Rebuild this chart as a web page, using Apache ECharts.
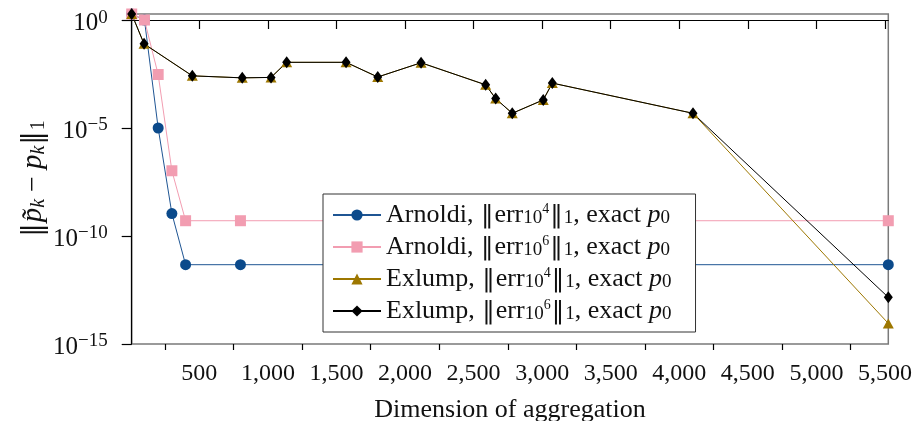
<!DOCTYPE html>
<html>
<head>
<meta charset="utf-8">
<script src="https://cdn.jsdelivr.net/npm/echarts@6/dist/echarts.min.js"></script>
<style>html,body{margin:0;background:#fff}#chart{width:914px;height:421px}</style>
</head>
<body>
<div id="chart"></div>
<script>
// data (errors are plotted on a log10 scale)
var xArnoldi = [7, 100, 200, 300, 400, 800, 5524];
var arnoldi4 = [1.9, 1.0, 1.0e-5, 1.1e-9, 4.7e-12, 4.7e-12, 4.7e-12];
var arnoldi6 = [1.9, 1.0, 3.0e-3, 1.05e-7, 5.1e-10, 5.1e-10, 5.1e-10];

var xExlump = [7, 97, 449, 813, 1023, 1137, 1570, 1801, 2117, 2588, 2661, 2782, 3008, 3074, 4100, 5524];
var exlump4 = [1.9, 0.079, 2.6e-3, 2.1e-3, 2.2e-3, 1.1e-2, 1.1e-2, 2.3e-3, 1.05e-2, 1.0e-3, 2.3e-4, 4.8e-5, 2.0e-4, 1.2e-3, 4.8e-5, 9e-15];
var exlump6 = [1.9, 0.079, 2.6e-3, 2.1e-3, 2.2e-3, 1.1e-2, 1.1e-2, 2.3e-3, 1.05e-2, 1.0e-3, 2.3e-4, 4.8e-5, 2.0e-4, 1.2e-3, 4.8e-5, 1.45e-13];

var xTicks = [500, 1000, 1500, 2000, 2500, 3000, 3500, 4000, 4500, 5000, 5500];
var xMinorTicks = [250, 750, 1250, 1750, 2250, 2750, 3250, 3750, 4250, 4750, 5250];
var yTickExp = [-15, -10, -5, 0];

var serif = 'Liberation Serif';
var ink = '#111';

function pts(xs, ys) {
  return xs.map(function (x, i) { return [x, Math.log10(ys[i])]; });
}

var legendText = {
  'Arnoldi 1e4': '{n|Arnoldi, }{d|‖}{n|err}{s|10}{ss|4}{d|‖}{s|1}{n|, exact }{i|p}{s|0}',
  'Arnoldi 1e6': '{n|Arnoldi, }{d|‖}{n|err}{s|10}{ss|6}{d|‖}{s|1}{n|, exact }{i|p}{s|0}',
  'Exlump 1e4': '{n|Exlump, }{d|‖}{n|err}{s|10}{ss|4}{d|‖}{s|1}{n|, exact }{i|p}{s|0}',
  'Exlump 1e6': '{n|Exlump, }{d|‖}{n|err}{s|10}{ss|6}{d|‖}{s|1}{n|, exact }{i|p}{s|0}'
};

var richText = {
  n: {fontFamily: serif, fontSize: 26, lineHeight: 26, color: ink},
  d: {fontFamily: 'DejaVu Serif', fontSize: 25, lineHeight: 26, color: ink, padding: [0, 1, 0, 1]},
  i: {fontFamily: serif, fontSize: 26, lineHeight: 26, fontStyle: 'italic', color: ink},
  s: {fontFamily: serif, fontSize: 19, lineHeight: 16, verticalAlign: 'bottom', color: ink},
  ss: {fontFamily: serif, fontSize: 14, lineHeight: 20, verticalAlign: 'top', color: ink}
};

var titleRich = {
  n: {fontFamily: serif, fontSize: 28, lineHeight: 30, color: ink},
  d: {fontFamily: 'DejaVu Serif', fontSize: 27, lineHeight: 30, color: ink, padding: [0, 1, 0, 1]},
  i: {fontFamily: serif, fontSize: 29, lineHeight: 30, fontStyle: 'italic', color: ink},
  s: {fontFamily: serif, fontSize: 20, lineHeight: 18, verticalAlign: 'bottom', color: ink},
  si: {fontFamily: serif, fontSize: 20, lineHeight: 18, verticalAlign: 'bottom', fontStyle: 'italic', color: ink}
};

var tickRich = {
  b: {fontFamily: serif, fontSize: 25, lineHeight: 30, color: ink},
  sup: {fontFamily: serif, fontSize: 19, lineHeight: 17, verticalAlign: 'top', color: ink}
};

var chart = echarts.init(document.getElementById('chart'));

var option = {
  animation: false,
  backgroundColor: '#fff',
  grid: {
    left: 131.7, right: 25.7, top: 14, bottom: 77,
    outerBoundsMode: 'none',
    show: true, borderColor: '#7a7a7a', borderWidth: 1.5
  },
  xAxis: [{
    type: 'value',
    min: 7,
    max: 5524,
    name: 'Dimension of aggregation',
    nameLocation: 'middle',
    nameGap: 53,
    nameTextStyle: {fontFamily: serif, fontSize: 26, color: ink},
    axisLine: {lineStyle: {color: '#000', width: 1.2}},
    axisTick: {customValues: xTicks, length: 9, lineStyle: {color: '#000', width: 1.2}},
    axisLabel: {
      customValues: xTicks, margin: 18, fontFamily: serif, fontSize: 24, color: ink,
      formatter: function (v) { return v.toLocaleString('en-US'); }
    },
    splitLine: {show: false}
  }, {
    type: 'value',
    min: 7,
    max: 5524,
    position: 'bottom',
    axisLine: {show: false},
    axisTick: {customValues: xMinorTicks, length: 6, lineStyle: {color: '#000', width: 1.2}},
    axisLabel: {show: false},
    splitLine: {show: false}
  }],
  yAxis: {
    type: 'value',
    min: -15,
    max: Math.log10(1.9),
    name: '{d|‖}{i|p̃}{si|k}{n| − }{i|p}{si|k}{d|‖}{s|1}',
    nameLocation: 'middle',
    nameGap: 83,
    nameMoveOverlap: false,
    nameTextStyle: {fontFamily: serif, fontSize: 28, rich: titleRich},
    axisLine: {lineStyle: {color: '#000', width: 1.2}},
    axisTick: {customValues: yTickExp, length: 10, lineStyle: {color: '#000', width: 1.2}},
    axisLabel: {
      customValues: yTickExp, margin: 24, padding: [6, 0, 0, 0],
      formatter: function (v) {
        return '{b|10}{sup|' + (v === 0 ? '0' : '−' + (-v)) + '}';
      },
      rich: tickRich
    },
    splitLine: {show: false}
  },
  legend: {
    orient: 'vertical',
    left: 323,
    top: 194,
    padding: [8, 24, 8, 9],
    itemWidth: 48,
    itemHeight: 14,
    itemGap: 6,
    backgroundColor: '#fff',
    borderColor: '#333',
    borderWidth: 1,
    borderRadius: 0,
    textStyle: {fontFamily: serif, fontSize: 26, color: ink, rich: richText},
    formatter: function (name) { return legendText[name]; }
  },
  series: [{
    name: 'Arnoldi 1e4',
    type: 'line',
    data: pts(xArnoldi, arnoldi4),
    symbol: 'circle',
    symbolSize: 11,
    itemStyle: {color: '#0b4a8b'},
    lineStyle: {color: '#1f5593', width: 1}
  }, {
    name: 'Arnoldi 1e6',
    type: 'line',
    data: pts(xArnoldi, arnoldi6),
    symbol: 'rect',
    symbolSize: 11,
    itemStyle: {color: '#f29db1'},
    lineStyle: {color: '#f29db1', width: 1}
  }, {
    name: 'Exlump 1e4',
    type: 'line',
    data: pts(xExlump, exlump4),
    symbol: 'triangle',
    symbolSize: [11, 10],
    itemStyle: {color: '#9d7700'},
    lineStyle: {color: '#9d7700', width: 1}
  }, {
    name: 'Exlump 1e6',
    type: 'line',
    data: pts(xExlump, exlump6),
    symbol: 'diamond',
    symbolSize: [9, 12],
    itemStyle: {color: '#000'},
    lineStyle: {color: '#000', width: 1}
  }]
};

chart.setOption(option);
</script>
</body>
</html>
